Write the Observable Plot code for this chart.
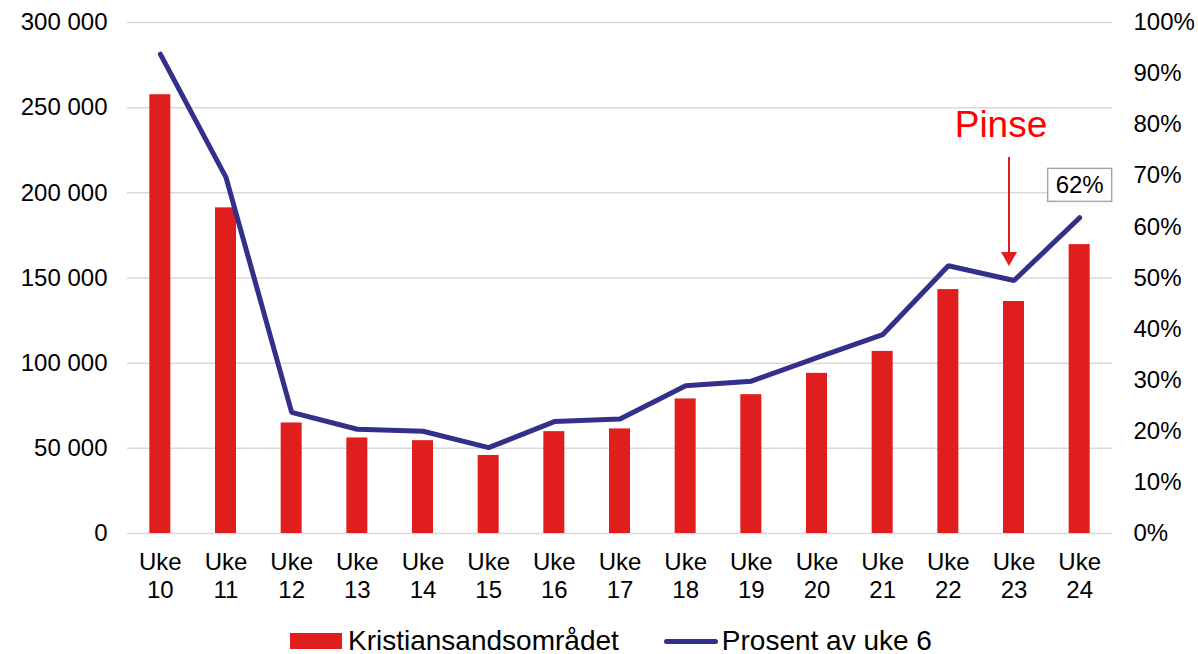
<!DOCTYPE html>
<html>
<head>
<meta charset="utf-8">
<script src="https://cdn.jsdelivr.net/npm/d3@7"></script>
<script src="https://cdn.jsdelivr.net/npm/@observablehq/plot@0.6"></script>
<style>
  html, body { margin: 0; padding: 0; background: #fff; }
  body { width: 1198px; height: 654px; overflow: hidden; font-family: "Liberation Sans", Arial, sans-serif; color: #000; }
  #chart svg { display: block; }
  #legend { display: flex; align-items: center; height: 40px; margin-top: 9px; padding-left: 290px; font-size: 28px; line-height: 40px; }
  .sw-bar { width: 52px; height: 16px; background: #e01e1e; margin-right: 6px; flex: none; }
  .sw-line { width: 54px; height: 5px; background: #342f8a; border-radius: 3px; margin-left: 45px; margin-right: 4px; flex: none; }
</style>
</head>
<body>
<div id="chart"></div>
<div id="legend">
  <span class="sw-bar"></span><span>Kristiansandsområdet</span>
  <span class="sw-line"></span><span>Prosent av uke 6</span>
</div>
<script>
const weeks = ["10","11","12","13","14","15","16","17","18","19","20","21","22","23","24"];
const visitors = [257600, 191200, 64900, 56100, 54500, 45800, 59800, 61400, 79000, 81500, 94000, 106900, 143200, 136200, 169600];
const percent = [93.8, 69.7, 23.7, 20.4, 20.0, 16.8, 21.9, 22.4, 28.9, 29.8, 34.4, 38.9, 52.4, 49.5, 61.8];
const leftTicks = [0, 50000, 100000, 150000, 200000, 250000, 300000];
const rightTicks = [0, 10, 20, 30, 40, 50, 60, 70, 80, 90, 100];
const seriesNames = ["Kristiansandsområdet", "Prosent av uke 6"];
const pinseWeek = "23";
const pinseLabel = "Pinse";
const pinseTextValue = 240000;
const pinseArrowFrom = 220700;
const pinseArrowTo = 163500;

const yMax = 300000;
const pctScale = yMax / 100;

const rows = weeks.map((w, i) => ({week: w, visitors: visitors[i], pct: percent[i], pctY: percent[i] * pctScale}));
const last = rows[rows.length - 1];
const pinseRow = rows.find(r => r.week === pinseWeek);

const fmtSpace = d => d3.format(",")(d).replace(/,/g, " ");
const barColor = "#e01e1e";
const lineColor = "#342f8a";

const chart = Plot.plot({
  width: 1198,
  height: 612,
  marginLeft: 127,
  marginRight: 86,
  marginTop: 22,
  marginBottom: 79,
  style: {fontFamily: "'Liberation Sans', Arial, sans-serif", color: "#000", background: "#fff"},
  x: {domain: weeks, paddingInner: 0.68, paddingOuter: 0.34, round: false, axis: null, label: null},
  y: {domain: [0, yMax], axis: null, label: null},
  marks: [
    Plot.gridY(leftTicks, {stroke: "#d9d9d9", strokeOpacity: 1, strokeWidth: 1.5}),
    Plot.axisY(leftTicks, {anchor: "left", tickSize: 0, tickPadding: 20, fontSize: 24, tickFormat: fmtSpace, fill: "#000", label: null}),
    Plot.axisY(rightTicks.map(v => v * pctScale), {anchor: "right", tickSize: 0, tickPadding: 21, fontSize: 24, tickFormat: d => Math.round(d / pctScale) + "%", fill: "#000", label: null}),
    Plot.axisX({tickSize: 0, tickPadding: 16, fontSize: 24, lineHeight: 1.18, tickFormat: d => "Uke\n" + d, fill: "#000", label: null}),
    Plot.barY(rows, {x: "week", y: "visitors", fill: barColor}),
    Plot.line(rows, {x: "week", y: "pctY", stroke: lineColor, strokeWidth: 5, strokeLinejoin: "miter", strokeLinecap: "round"}),
    Plot.text([last], {x: "week", y: "pctY", text: d => Math.round(d.pct) + "%", dy: -32, fontSize: 24, fill: "#000"}),
    Plot.text([pinseRow], {x: "week", y: () => pinseTextValue, text: () => pinseLabel, dx: -13, fontSize: 37, fill: "#ff0000"}),
    Plot.ruleX([pinseRow], {x: "week", y1: () => pinseArrowFrom, y2: () => pinseArrowTo, dx: -5, stroke: barColor, strokeWidth: 2}),
    Plot.dot([pinseRow], {x: "week", y: "pctY", dy: -24, dx: -5, symbol: "triangle", rotate: 180, r: 6, fill: barColor, stroke: "none"})
  ]
});

document.getElementById("chart").appendChild(chart);

// draw a frame around the last value label
const svg = d3.select(chart);
svg.selectAll("text").each(function() {
  if (this.textContent === Math.round(last.pct) + "%" && !this.closest("[aria-label*='axis']")) {
    const bb = this.getBBox();
    const parent = this.parentNode;
    const rect = document.createElementNS("http://www.w3.org/2000/svg", "rect");
    rect.setAttribute("x", bb.x - 8);
    rect.setAttribute("y", bb.y - 3);
    rect.setAttribute("width", bb.width + 16);
    rect.setAttribute("height", bb.height + 6);
    rect.setAttribute("fill", "#fff");
    rect.setAttribute("stroke", "#a6a6a6");
    rect.setAttribute("stroke-width", "1.5");
    const tr = this.getAttribute("transform");
    if (tr) rect.setAttribute("transform", tr);
    parent.insertBefore(rect, this);
  }
});
</script>
</body>
</html>
